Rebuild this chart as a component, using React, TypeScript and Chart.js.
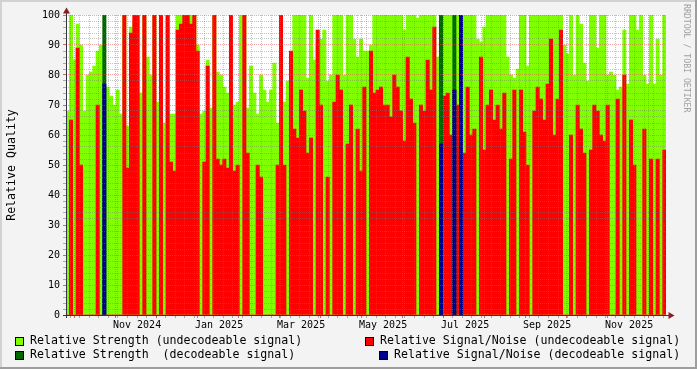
import React, { useEffect, useRef } from 'react';
import { Chart, registerables } from 'chart.js';

Chart.register(...registerables);

// ---- data (one value per time bin, ~2.44 days each, Sep 27 2024 -> Dec 10 2025) ----
const RS_UNDEC = [
  68, 100, 85, 97, 90, 68, 80, 81, 83, 88,
  90, 76, 76, 73, 70, 75, 67, 100, 63, 96,
  98, 74, 74, 100, 86, 80, 100, 71, 100, 64,
  100, 67, 67, 100, 100, 100, 100, 100, 100, 90,
  67, 68, 85, 69, 100, 81, 80, 76, 74, 100,
  70, 71, 100, 100, 69, 83, 74, 67, 80, 75,
  71, 75, 84, 64, 100, 71, 78, 85, 100, 100,
  100, 100, 79, 100, 85, 91, 92, 95, 78, 80,
  100, 100, 100, 80, 100, 100, 92, 86, 92, 88,
  88, 90, 100, 100, 100, 100, 100, 100, 100, 100,
  100, 95, 100, 100, 100, 99, 100, 100, 100, 100,
  100, 86, 100, 100, 100, 100, 100, 100, 100, 100,
  100, 100, 100, 92, 91, 96, 100, 100, 100, 100,
  100, 100, 86, 80, 79, 82, 100, 100, 83, 100,
  100, 100, 100, 100, 100, 100, 100, 100, 100, 90,
  87, 100, 80, 100, 97, 84, 78, 100, 100, 89,
  100, 100, 80, 81, 80, 75, 76, 95, 77, 100,
  100, 95, 100, 80, 77, 100, 77, 92, 80, 100,
];

const SNR_UNDEC = [
  0, 65, 0, 89, 50, 0, 0, 0, 0, 70,
  0, 0, 0, 0, 0, 0, 0, 100, 49, 94,
  100, 100, 0, 100, 0, 0, 100, 0, 100, 0,
  100, 51, 48, 95, 97, 100, 100, 97, 100, 88,
  0, 51, 83, 0, 100, 52, 50, 52, 49, 100,
  48, 50, 0, 100, 54, 0, 0, 50, 46, 0,
  0, 0, 0, 50, 100, 50, 0, 88, 62, 59,
  75, 68, 54, 59, 0, 95, 70, 0, 46, 0,
  71, 80, 75, 0, 57, 70, 0, 62, 48, 76,
  0, 88, 74, 75, 76, 70, 70, 66, 80, 76,
  68, 58, 86, 72, 64, 0, 70, 68, 85, 75,
  96, 0, 89, 73, 74, 60, 75, 70, 65, 54,
  76, 60, 62, 0, 86, 55, 70, 75, 65, 70,
  62, 74, 0, 52, 75, 0, 75, 61, 50, 0,
  68, 76, 72, 65, 77, 92, 60, 72, 95, 0,
  0, 60, 0, 70, 62, 54, 0, 55, 70, 68,
  60, 58, 70, 0, 0, 72, 0, 80, 0, 65,
  50, 0, 0, 62, 0, 52, 0, 52, 0, 55,
];

// decodeable signal: only a few bins carry values
const DEC_BINS = [11, 112, 116, 118];
const RS_DEC = [100, 100, 100, 100];
const SNR_DEC = [77, 57, 75, 100];

const MONTH_LABELS = ['Nov 2024', 'Jan 2025', 'Mar 2025', 'May 2025', 'Jul 2025', 'Sep 2025', 'Nov 2025'];
const Y_LABELS = [0, 10, 20, 30, 40, 50, 60, 70, 80, 90, 100];

const LEGEND = [
  { text: 'Relative Strength (undecodeable signal)', color: '#80FF00' },
  { text: 'Relative Strength  (decodeable signal)', color: '#006600' },
  { text: 'Relative Signal/Noise (undecodeable signal)', color: '#FF0000' },
  { text: 'Relative Signal/Noise (decodeable signal)', color: '#000090' },
];

// ---- time axis (days since 2024-09-27) ----
const SPAN_DAYS = 439;
const BIN_DAYS = SPAN_DAYS / RS_UNDEC.length;
const WEEK_FIRST = 3; // first Monday (Sep 30 2024)
const MAJOR_FIRST = 6; // major grid every 30 days
const MAJOR_STEP = 30;
const LABEL_FIRST = 36;
const LABEL_STEP = 60;
const LABEL_SHIFT = 16;

const PLOT_W = 600;
const BAR_W = PLOT_W / RS_UNDEC.length;

const FONT = "'DejaVu Sans Mono', monospace";
const GRID = 'rgba(120,120,120,0.42)';
const MGRID = 'rgba(230,80,80,0.5)';
const AXIS = '#34343f';
const ARROW = '#8C1E1E';

type XTick = { value: number; kind: string; text: string };

function buildXTicks(): XTick[] {
  const ticks: XTick[] = [];
  for (let d = WEEK_FIRST; d < SPAN_DAYS; d += 7) ticks.push({ value: d, kind: 'minor', text: '' });
  for (let d = MAJOR_FIRST; d < SPAN_DAYS; d += MAJOR_STEP) ticks.push({ value: d, kind: 'major', text: '' });
  MONTH_LABELS.forEach((t, k) =>
    ticks.push({ value: LABEL_FIRST + k * LABEL_STEP + LABEL_SHIFT, kind: 'label', text: t })
  );
  ticks.sort((a, b) => a.value - b.value);
  return ticks;
}

const rrdFrame = {
  id: 'rrdFrame',
  beforeDraw(chart: any) {
    const { ctx, chartArea: a } = chart;
    ctx.save();
    ctx.fillStyle = '#FFFFFF';
    ctx.fillRect(a.left, a.top, a.right - a.left, a.bottom - a.top);
    ctx.restore();
  },
  afterDraw(chart: any) {
    const { ctx, chartArea: a } = chart;
    ctx.save();
    ctx.strokeStyle = AXIS;
    ctx.lineWidth = 1;
    ctx.setLineDash([]);
    ctx.beginPath();
    ctx.moveTo(a.left - 3, a.bottom + 0.5);
    ctx.lineTo(a.right + 3, a.bottom + 0.5);
    ctx.moveTo(a.left + 0.5, a.bottom + 3);
    ctx.lineTo(a.left + 0.5, a.top - 2);
    ctx.stroke();
    ctx.fillStyle = ARROW;
    ctx.beginPath();
    ctx.moveTo(a.left + 0.5, a.top - 7.5);
    ctx.lineTo(a.left - 3, a.top - 1.5);
    ctx.lineTo(a.left + 4, a.top - 1.5);
    ctx.closePath();
    ctx.fill();
    ctx.beginPath();
    ctx.moveTo(a.right + 8.5, a.bottom + 0.5);
    ctx.lineTo(a.right + 2.5, a.bottom - 3);
    ctx.lineTo(a.right + 2.5, a.bottom + 4);
    ctx.closePath();
    ctx.fill();
    ctx.restore();
  },
};

export default function App() {
  const ref = useRef<HTMLCanvasElement>(null);

  useEffect(() => {
    const canvas = ref.current;
    if (!canvas) return;
    const binX = (i: number) => (i + 0.5) * BIN_DAYS;
    const series = (vals: number[], bins?: number[]) =>
      vals.map((y, k) => ({ x: binX(bins ? bins[k] : k), y }));
    const xTicks = buildXTicks();
    const common = { stack: 'q', borderWidth: 0, barThickness: BAR_W, grouped: true };

    const chart = new Chart(canvas, {
      type: 'bar',
      data: {
        datasets: [
          { label: LEGEND[0].text, data: series(RS_UNDEC), backgroundColor: LEGEND[0].color, order: 4, ...common },
          { label: LEGEND[2].text, data: series(SNR_UNDEC), backgroundColor: LEGEND[2].color, order: 3, ...common },
          { label: LEGEND[1].text, data: series(RS_DEC, DEC_BINS), backgroundColor: LEGEND[1].color, order: 2, ...common },
          { label: LEGEND[3].text, data: series(SNR_DEC, DEC_BINS), backgroundColor: LEGEND[3].color, order: 1, ...common },
        ] as any,
      },
      options: {
        responsive: false,
        animation: false,
        devicePixelRatio: 1,
        layout: { padding: { left: 0, top: 15, right: 31, bottom: 34 } },
        plugins: { legend: { display: false }, tooltip: { enabled: false }, title: { display: false } },
        scales: {
          x: {
            type: 'linear',
            min: 0,
            max: SPAN_DAYS,
            offset: false,
            grid: {
              offset: false,
              z: 1,
              drawTicks: true,
              tickLength: 3,
              color: (c: any) =>
                c.tick && c.tick.kind === 'major' ? MGRID : c.tick && c.tick.kind === 'minor' ? GRID : 'rgba(0,0,0,0)',
              tickColor: (c: any) =>
                c.tick && c.tick.kind === 'major' ? 'rgba(200,70,70,0.8)' : c.tick && c.tick.kind === 'minor' ? 'rgba(120,120,120,0.6)' : 'rgba(0,0,0,0)',
            },
            border: { display: false, dash: [1, 1] },
            ticks: {
              autoSkip: false,
              maxRotation: 0,
              minRotation: 0,
              padding: 1,
              color: '#000',
              font: { family: FONT, size: 10 },
              callback: (_v: any, i: number, ts: any[]) => (ts[i] && ts[i].text) || '',
            },
            afterBuildTicks: (s: any) => {
              s.ticks = xTicks.map((t) => ({ ...t }));
            },
            afterFit: (s: any) => {
              s.height = 20;
            },
          },
          y: {
            type: 'linear',
            min: 0,
            max: 100,
            stacked: false,
            grid: {
              z: 1,
              tickLength: 3,
              color: (c: any) => (c.tick && c.tick.value % 10 === 0 ? MGRID : GRID),
              tickColor: (c: any) => (c.tick && c.tick.value % 10 === 0 ? 'rgba(200,70,70,0.8)' : 'rgba(120,120,120,0.6)'),
            },
            border: { display: false, dash: [1, 1] },
            ticks: {
              stepSize: 2,
              autoSkip: false,
              padding: 3,
              color: '#000',
              font: { family: FONT, size: 10 },
              callback: (v: any) => (Y_LABELS.includes(Number(v)) ? String(v) : ''),
            },
            title: {
              display: true,
              text: 'Relative Quality',
              color: '#000',
              font: { family: FONT, size: 11.6 },
              padding: { top: 5, bottom: 0 },
            },
            afterFit: (s: any) => {
              s.width = 66;
            },
          },
        },
      } as any,
      plugins: [rrdFrame],
    });
    return () => chart.destroy();
  }, []);

  const legendText: React.CSSProperties = {
    position: 'absolute',
    fontFamily: FONT,
    fontSize: '11.6px',
    lineHeight: '11.6px',
    whiteSpace: 'pre',
    color: '#000',
  };
  const box = (left: number, top: number, color: string): React.CSSProperties => ({
    position: 'absolute',
    left,
    top,
    width: 9,
    height: 9,
    boxSizing: 'border-box',
    border: '1px solid #000',
    background: color,
  });

  return (
    <div style={{ position: 'relative', width: 697, height: 369, background: '#F3F3F3', overflow: 'hidden' }}>
      <style>{'html,body{margin:0;padding:0;}'}</style>
      <canvas ref={ref} width={697} height={369} style={{ position: 'absolute', left: 0, top: 0, width: 697, height: 369 }} />
      {/* frame shading */}
      <div style={{ position: 'absolute', left: 0, top: 0, width: 697, height: 2, background: '#D2D2D2' }} />
      <div style={{ position: 'absolute', left: 0, top: 0, width: 2, height: 369, background: '#D2D2D2' }} />
      <div style={{ position: 'absolute', left: 0, top: 367, width: 697, height: 2, background: '#9E9E9E' }} />
      <div style={{ position: 'absolute', left: 695, top: 0, width: 2, height: 369, background: '#9E9E9E' }} />
      {/* legend */}
      <div style={box(15, 337, LEGEND[0].color)} />
      <div style={{ ...legendText, left: 30, top: 335 }}>{LEGEND[0].text}</div>
      <div style={box(15, 351, LEGEND[1].color)} />
      <div style={{ ...legendText, left: 30, top: 349 }}>{LEGEND[1].text}</div>
      <div style={box(365, 337, LEGEND[2].color)} />
      <div style={{ ...legendText, left: 380, top: 335 }}>{LEGEND[2].text}</div>
      <div style={box(379, 351, LEGEND[3].color)} />
      <div style={{ ...legendText, left: 394, top: 349 }}>{LEGEND[3].text}</div>
      {/* watermark */}
      <div
        style={{
          position: 'absolute',
          left: 682,
          top: 4,
          writingMode: 'vertical-rl',
          fontFamily: FONT,
          fontSize: '8.2px',
          lineHeight: '10px',
          color: '#A0A0A0',
          whiteSpace: 'pre',
        }}
      >
        RRDTOOL / TOBI OETIKER
      </div>
    </div>
  );
}
